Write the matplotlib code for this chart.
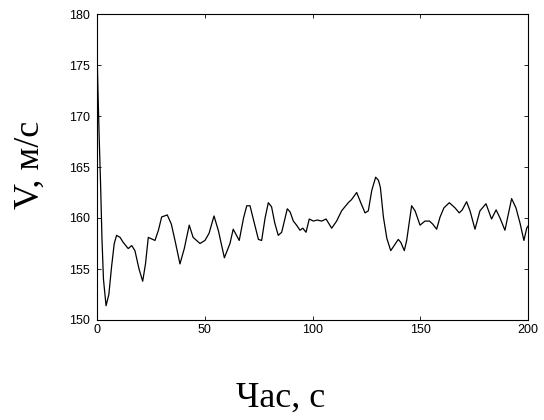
import matplotlib
matplotlib.use("Agg")
import matplotlib.pyplot as plt

time_s = [0, 0.5, 1, 1.7, 2.3, 3, 4.2, 5.5, 6.8, 8, 9.1, 10.7, 12.2, 14.5, 16.1, 17.6,
          19.5, 21.2, 22.5, 23.8, 26.9, 28.5, 30.0, 32.6, 34.5, 36.5, 38.5, 40.5, 42.8,
          44.6, 47.8, 50.1, 52, 54.3, 56.4, 59.1, 61.7, 63.2, 66.0, 68, 69.5, 71, 73,
          74.9, 76.4, 78, 79.5, 81, 82.5, 84.1, 85.7, 88.3, 89.6, 91.1, 92.6, 94.2, 95.5,
          97, 98.5, 100.4, 102.2, 104.3, 106.3, 108.9, 111.2, 113.5, 116.6, 118.1, 120.5,
          122.4, 124.4, 125.9, 127.5, 129.3, 130.6, 131.5, 132.9, 134.5, 136.3, 137.9,
          139.8, 141, 142.6, 143.7, 146.0, 147.6, 149.9, 152.2, 154.3, 155.8, 157.6,
          159.2, 161, 163.5, 166.1, 168.1, 169.5, 171.5, 173.1, 175.4, 177.7, 180.5,
          183.1, 185.2, 187, 189.3, 192.4, 194.4, 196.3, 198.1, 199.4, 200]
speed = [176.5, 172, 168, 163, 158, 154, 151.4, 152.5, 155.3, 157.5, 158.3, 158.1, 157.6,
         157.0, 157.3, 156.8, 155, 153.8, 155.5, 158.1, 157.8, 158.8, 160.1, 160.3, 159.4,
         157.5, 155.5, 157, 159.3, 158.1, 157.5, 157.8, 158.5, 160.2, 158.7, 156.1, 157.5,
         158.9, 157.8, 160, 161.2, 161.2, 159.5, 157.9, 157.8, 160, 161.5, 161.1, 159.5,
         158.3, 158.6, 160.9, 160.6, 159.7, 159.3, 158.8, 159.0, 158.6, 159.9, 159.7,
         159.8, 159.7, 159.9, 159.0, 159.7, 160.7, 161.5, 161.8, 162.5, 161.5, 160.5,
         160.7, 162.7, 164.0, 163.7, 163.0, 160.1, 158, 156.8, 157.3, 157.9, 157.6, 156.8,
         157.8, 161.2, 160.7, 159.3, 159.7, 159.7, 159.4, 158.9, 160.1, 161.0, 161.5,
         161.0, 160.5, 160.8, 161.6, 160.7, 158.9, 160.7, 161.4, 159.9, 160.8, 160,
         158.8, 161.9, 161.0, 159.5, 157.8, 159.0, 159.2]

x_ticks = [0, 50, 100, 150, 200]
y_ticks = [150, 155, 160, 165, 170, 175, 180]
x_label = "Час, с"
y_label = "V, м/с"

fig = plt.figure(figsize=(5.44, 4.20), dpi=100)
ax = fig.add_axes([97/544, 1 - 320/420, (528 - 97)/544, (320 - 14)/420])
ax.plot(time_s, speed, color="black", linewidth=0.9)
ax.set_xlim(0, 200)
ax.set_ylim(150, 180)
ax.set_xticks(x_ticks)
ax.set_yticks(y_ticks)
ax.tick_params(direction="in", top=True, right=True, length=3, width=0.6,
               labelsize=9)
ax.tick_params(axis="y", pad=5)
ax.tick_params(axis="x", pad=3)
for lab in ax.get_xticklabels() + ax.get_yticklabels():
    lab.set_family(["Liberation Sans", "DejaVu Sans"])
for s in ax.spines.values():
    s.set_linewidth(0.8)

fig.text(281/544, 1 - 407/420, x_label, ha="center", va="baseline",
         fontsize=26, family=["Liberation Serif", "DejaVu Serif"])
fig.text(39/544, 1 - 165/420, y_label, ha="center", va="baseline", rotation=90,
         rotation_mode="anchor",
         fontsize=26, family=["Liberation Serif", "DejaVu Serif"])

fig.savefig("out.png", dpi=100)
